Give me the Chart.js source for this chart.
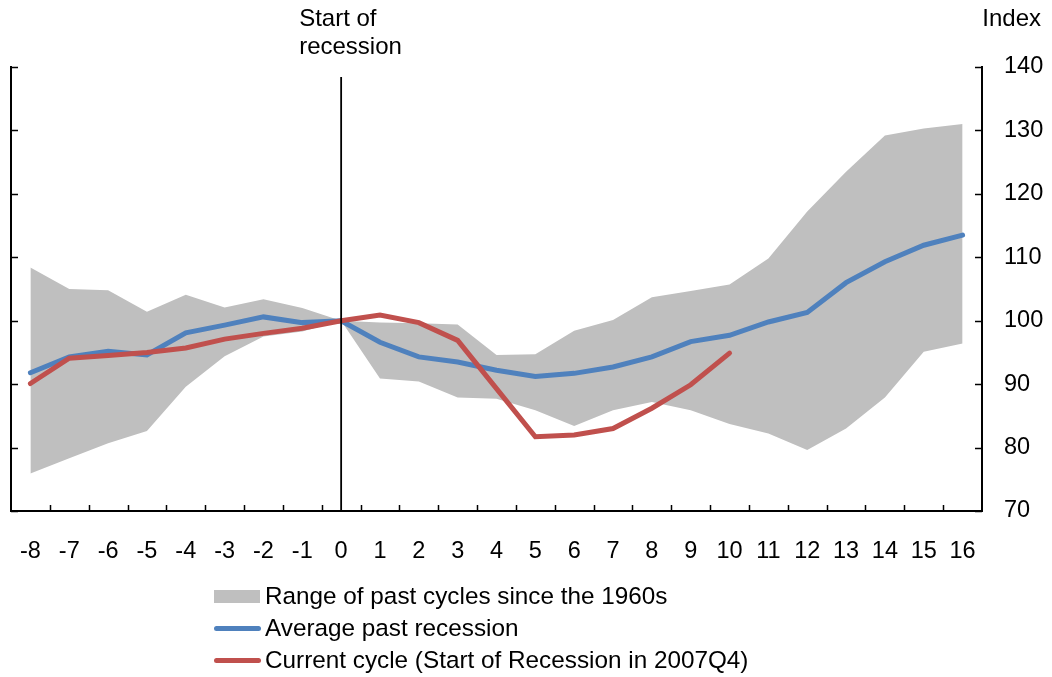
<!DOCTYPE html>
<html>
<head>
<meta charset="utf-8">
<script src="https://cdn.jsdelivr.net/npm/chart.js@4/dist/chart.umd.min.js"></script>
<style>
  html, body { margin: 0; padding: 0; background: #fff; }
  #wrap { position: relative; width: 1052px; height: 677px; font-family: "Liberation Sans", Arial, sans-serif; }
  canvas { position: absolute; left: 0; top: 0; }
  .legend { position: absolute; left: 214px; font-size: 24.3px; color: #000; }
  .legend div { position: relative; height: 32px; line-height: 32px; padding-left: 51px; white-space: nowrap; }
  .legend span { position: absolute; left: 0; }
  .box { top: 10px; width: 46px; height: 13px; background: #bfbfbf; }
  .ln { top: 14px; width: 47px; height: 5px; border-radius: 3px; }
</style>
</head>
<body>
<div id="wrap">
  <canvas id="myChart" width="1052" height="677"></canvas>
  <div class="legend" style="top:580px">
    <div><span class="box"></span>Range of past cycles since the 1960s</div>
    <div><span class="ln" style="background:#4f81bd"></span>Average past recession</div>
    <div><span class="ln" style="background:#c0504d"></span>Current cycle (Start of Recession in 2007Q4)</div>
  </div>
</div>
<script>
// quarters from start of recession
const quarters = [-8, -7, -6, -5, -4, -3, -2, -1, 0, 1, 2, 3, 4, 5, 6, 7, 8, 9, 10, 11, 12, 13, 14, 15, 16];

const rangeLow = [75.9, 78.3, 80.7, 82.6, 89.6, 94.4, 97.5, 98.3, 100, 90.9, 90.4, 87.9, 87.7, 85.9, 83.4, 85.9, 87.2, 85.9, 83.7, 82.2, 79.6, 83.0, 87.9, 95.1, 96.4];
const rangeHigh = [108.4, 105.0, 104.8, 101.4, 104.1, 102.1, 103.4, 102.0, 100, 99.7, 99.6, 99.4, 94.6, 94.7, 98.4, 100.1, 103.7, 104.7, 105.7, 109.8, 117.2, 123.5, 129.2, 130.3, 131.0];
const averagePast = [91.8, 94.3, 95.2, 94.6, 98.1, 99.3, 100.6, 99.7, 100, 96.6, 94.3, 93.5, 92.2, 91.2, 91.7, 92.7, 94.3, 96.7, 97.7, 99.8, 101.3, 106.0, 109.3, 111.9, 113.5];
const currentCycle = [90.1, 94.1, 94.5, 95.0, 95.7, 97.1, 98.0, 98.8, 100, 100.9, 99.7, 96.9, 89.3, 81.7, 82.0, 83.0, 86.2, 89.9, 94.9];

const yTicks = [70, 80, 90, 100, 110, 120, 130, 140];

const FONT = "Liberation Sans, Arial, sans-serif";

// inward tick marks, recession line and the header texts
const extras = {
  id: "extras",
  afterDraw(chart) {
    const ctx = chart.ctx;
    const x = chart.scales.x, y = chart.scales.y;
    const area = chart.chartArea;
    ctx.save();
    ctx.strokeStyle = "#000";
    ctx.lineWidth = 1.5;
    ctx.beginPath();
    yTicks.forEach(v => {
      const py = Math.round(y.getPixelForValue(v)) + 0.5;
      ctx.moveTo(area.left, py); ctx.lineTo(area.left + 7, py);
      ctx.moveTo(area.right, py); ctx.lineTo(area.right - 7, py);
    });
    const half = (x.getPixelForValue(1) - x.getPixelForValue(0)) / 2;
    for (let i = 1; i < quarters.length; i++) {
      const px = Math.round(x.getPixelForValue(i) - half) + 0.5;
      ctx.moveTo(px, area.bottom); ctx.lineTo(px, area.bottom - 6);
    }
    ctx.stroke();

    // start of recession
    const x0 = x.getPixelForValue(quarters.indexOf(0));
    ctx.lineWidth = 1.8;
    ctx.beginPath();
    ctx.moveTo(x0, 77); ctx.lineTo(x0, area.bottom);
    ctx.stroke();

    ctx.fillStyle = "#000";
    ctx.font = "24px " + FONT;
    ctx.textBaseline = "middle";
    ctx.textAlign = "left";
    ctx.fillText("Start of", x0 - 42, 19);
    ctx.fillText("recession", x0 - 42, 47);
    ctx.textAlign = "right";
    ctx.fillText("Index", 1041, 19);
    ctx.restore();
  }
};

new Chart(document.getElementById("myChart").getContext("2d"), {
  type: "line",
  data: {
    labels: quarters.map(String),
    datasets: [
      { label: "low", data: rangeLow, borderWidth: 0, borderColor: "rgba(0,0,0,0)", pointRadius: 0, fill: false, order: 4 },
      { label: "Range of past cycles since the 1960s", data: rangeHigh, borderWidth: 0, borderColor: "rgba(0,0,0,0)",
        backgroundColor: "#bfbfbf", pointRadius: 0, fill: "-1", order: 3 },
      { label: "Average past recession", data: averagePast, borderColor: "#4f81bd", borderWidth: 5,
        pointRadius: 0, fill: false, order: 2, borderCapStyle: "round" },
      { label: "Current cycle (Start of Recession in 2007Q4)", data: currentCycle, borderColor: "#c0504d", borderWidth: 5,
        pointRadius: 0, fill: false, order: 1, borderCapStyle: "round" }
    ]
  },
  options: {
    responsive: false,
    animation: false,
    layout: { padding: { left: 11, top: 67, right: 0, bottom: 0 } },
    plugins: { legend: { display: false }, tooltip: { enabled: false } },
    elements: { line: { tension: 0, borderJoinStyle: "miter" } },
    scales: {
      x: {
        offset: true,
        grid: { display: false, offset: true },
        border: { display: true, color: "#000", width: 2 },
        ticks: { color: "#000", font: { family: FONT, size: 23.5 }, padding: 18, maxRotation: 0, autoSkip: false },
        afterFit(s) { s.height = 166; }
      },
      y: {
        position: "right",
        min: 70, max: 140,
        grid: { display: false },
        border: { display: true, color: "#000", width: 2 },
        ticks: { stepSize: 10, color: "#000", font: { family: FONT, size: 23.5 }, padding: 14 },
        afterFit(s) { s.width = 70; }
      },
      yL: {
        position: "left",
        min: 70, max: 140,
        grid: { display: false },
        border: { display: true, color: "#000", width: 2 },
        ticks: { display: false },
        afterFit(s) { s.width = 0; }
      }
    }
  },
  plugins: [extras]
});
</script>
</body>
</html>
